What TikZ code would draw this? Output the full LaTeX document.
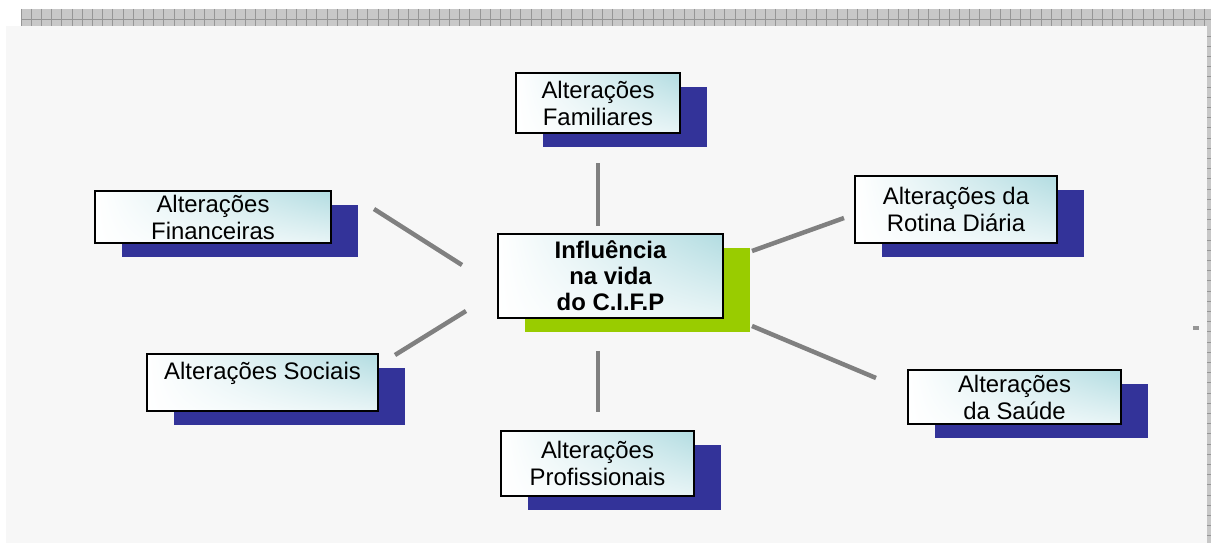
\documentclass[tikz,border=0pt]{standalone}
\usepackage{fontspec}
\setmainfont{Liberation Sans}
\usetikzlibrary{positioning, shadows, shadings}
\definecolor{shadowblue}{RGB}{51,51,153}
\definecolor{limegreen}{RGB}{153,204,0}
\definecolor{boxtint}{RGB}{178,220,225}
\definecolor{canvas}{RGB}{247,247,247}
\definecolor{bandgray}{RGB}{200,200,200}
\definecolor{gridgray}{RGB}{150,150,150}
\definecolor{linkgray}{RGB}{128,128,128}

\begin{document}
\begin{tikzpicture}[
    x=0.025cm, y=-0.025cm,
    topic/.style={rectangle, draw=black, line width=1.3pt, align=center, inner sep=0pt,
                  font=\fontsize{17}{19.2}\selectfont,
                  upper left=white, lower left=white,
                  upper right=boxtint, lower right=boxtint!30!white,
                  drop shadow={shadow xshift=0.675cm, shadow yshift=-0.35cm,
                               fill=shadowblue, opacity=1}},
    core/.style={topic, font=\fontsize{17}{18.6}\selectfont\bfseries,
                 drop shadow={shadow xshift=0.675cm, shadow yshift=-0.35cm,
                              fill=limegreen, opacity=1}},
    link/.style={draw=linkgray, line width=3.2pt},
    gridline/.style={draw=gridgray, line width=0.5pt},
]
    \useasboundingbox (0,0) rectangle (1211,543);

    % Canvas and frame
    \fill[canvas] (6,26) rectangle (1207,543);
    \fill[bandgray] (21,9) rectangle (1211,26);
    \foreach \gx in {21,31.2,...,1211}
        \draw[gridline] (\gx,9) -- (\gx,26);
    \draw[gridline] (21,19) -- (1211,19);
    \fill[bandgray] (1207,26) rectangle (1211,543);
    \foreach \gy in {36,46.2,...,543}
        \draw[gridline] (1207,\gy) -- (1211,\gy);
    \fill[gridgray] (1193,326.5) rectangle (1199,330.5);

    % Centre
    \node[core, minimum width=5.625cm, minimum height=2.1cm] (core) at (610.5,276)
        {Influência\\na vida\\do C.I.F.P};

    % Surrounding topics
    \node[topic, minimum width=4.1cm, minimum height=1.5cm] (familiares) at (598,103)
        {Alterações\\Familiares};
    \node[topic, minimum width=5.05cm, minimum height=1.675cm] (rotina) at (956,209.5)
        {Alterações da\\Rotina Diária};
    \node[topic, minimum width=5.9cm, minimum height=1.3cm] (financeiras) at (213,217)
        {Alterações\\Financeiras};
    \node[topic, minimum width=5.775cm, minimum height=1.425cm, text depth=0.6cm] (sociais) at (262.5,382.5)
        {Alterações Sociais};
    \node[topic, minimum width=5.325cm, minimum height=1.35cm] (saude) at (1014.5,397)
        {Alterações\\da Saúde};
    \node[topic, minimum width=4.825cm, minimum height=1.625cm] (profissionais) at (597.5,463.5)
        {Alterações\\Profissionais};

    % Link ends
    \coordinate (fam-a) at (598,226);  \coordinate (fam-b) at (598,163);
    \coordinate (pro-a) at (598,351);  \coordinate (pro-b) at (598,412);
    \coordinate (fin-a) at (462,265);  \coordinate (fin-b) at (374,209);
    \coordinate (soc-a) at (466,311);  \coordinate (soc-b) at (395,355);
    \coordinate (rot-a) at (752,251);  \coordinate (rot-b) at (844,218);
    \coordinate (sau-a) at (752,326);  \coordinate (sau-b) at (876,378);

    % Links
    \draw[link] (fam-a) -- (fam-b);
    \draw[link] (pro-a) -- (pro-b);
    \draw[link] (fin-a) -- (fin-b);
    \draw[link] (soc-a) -- (soc-b);
    \draw[link] (rot-a) -- (rot-b);
    \draw[link] (sau-a) -- (sau-b);
\end{tikzpicture}
\end{document}
